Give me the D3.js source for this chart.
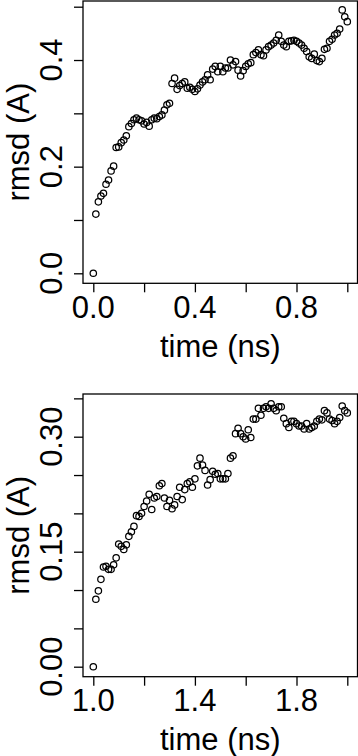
<!DOCTYPE html>
<html>
<head>
<meta charset="utf-8">
<script src="https://cdn.jsdelivr.net/npm/d3@7"></script>
<style>
  html, body { margin: 0; padding: 0; background: #fff; }
  svg { display: block; }
  text { font-family: "Liberation Sans", Arial, sans-serif; fill: #000; }
</style>
</head>
<body>
<svg id="chart" width="358" height="756"></svg>
<script>
// ---- Data ----
const timeTop = [0.00,0.01,0.02,0.03,0.04,0.05,0.06,0.07,0.08,0.09,0.10,0.11,0.12,0.13,0.14,0.15,0.16,0.17,0.18,0.19,0.20,0.21,0.22,0.23,0.24,0.25,0.26,0.27,0.28,0.29,0.30,0.31,0.32,0.33,0.34,0.35,0.36,0.37,0.38,0.39,0.40,0.41,0.42,0.43,0.44,0.45,0.46,0.47,0.48,0.49,0.50,0.51,0.52,0.53,0.54,0.55,0.56,0.57,0.58,0.59,0.60,0.61,0.62,0.63,0.64,0.65,0.66,0.67,0.68,0.69,0.70,0.71,0.72,0.73,0.74,0.75,0.76,0.77,0.78,0.79,0.80,0.81,0.82,0.83,0.84,0.85,0.86,0.87,0.88,0.89,0.90,0.91,0.92,0.93,0.94,0.95,0.96,0.97,0.98,0.99,1.00];
const rmsdTop = [0,0.111,0.134,0.145,0.150,0.167,0.175,0.192,0.201,0.236,0.237,0.245,0.250,0.258,0.275,0.281,0.288,0.291,0.288,0.286,0.280,0.283,0.276,0.288,0.291,0.290,0.294,0.297,0.306,0.316,0.319,0.356,0.366,0.345,0.352,0.356,0.359,0.347,0.349,0.345,0.341,0.346,0.353,0.359,0.363,0.372,0.363,0.383,0.388,0.378,0.388,0.378,0.385,0.385,0.400,0.391,0.397,0.381,0.370,0.380,0.388,0.393,0.395,0.410,0.414,0.419,0.410,0.408,0.419,0.425,0.428,0.432,0.437,0.447,0.435,0.428,0.425,0.435,0.436,0.437,0.435,0.432,0.428,0.422,0.416,0.406,0.403,0.411,0.399,0.397,0.403,0.420,0.422,0.435,0.439,0.447,0.450,0.458,0.494,0.481,0.472];

const timeBottom = [1.00,1.01,1.02,1.03,1.04,1.05,1.06,1.07,1.08,1.09,1.10,1.11,1.12,1.13,1.14,1.15,1.16,1.17,1.18,1.19,1.20,1.21,1.22,1.23,1.24,1.25,1.26,1.27,1.28,1.29,1.30,1.31,1.32,1.33,1.34,1.35,1.36,1.37,1.38,1.39,1.40,1.41,1.42,1.43,1.44,1.45,1.46,1.47,1.48,1.49,1.50,1.51,1.52,1.53,1.54,1.55,1.56,1.57,1.58,1.59,1.60,1.61,1.62,1.63,1.64,1.65,1.66,1.67,1.68,1.69,1.70,1.71,1.72,1.73,1.74,1.75,1.76,1.77,1.78,1.79,1.80,1.81,1.82,1.83,1.84,1.85,1.86,1.87,1.88,1.89,1.90,1.91,1.92,1.93,1.94,1.95,1.96,1.97,1.98,1.99,2.00];
const rmsdBottom = [0,0.088,0.099,0.114,0.130,0.131,0.127,0.127,0.133,0.142,0.160,0.157,0.153,0.159,0.170,0.176,0.183,0.197,0.196,0.200,0.209,0.216,0.225,0.205,0.220,0.222,0.236,0.239,0.220,0.209,0.217,0.206,0.211,0.222,0.234,0.218,0.231,0.239,0.241,0.234,0.245,0.262,0.272,0.263,0.256,0.237,0.244,0.255,0.251,0.252,0.245,0.245,0.245,0.252,0.272,0.275,0.304,0.311,0.304,0.300,0.297,0.309,0.299,0.323,0.323,0.337,0.328,0.337,0.339,0.337,0.343,0.337,0.334,0.339,0.339,0.324,0.317,0.312,0.320,0.320,0.317,0.314,0.314,0.310,0.317,0.310,0.312,0.314,0.320,0.323,0.322,0.334,0.331,0.323,0.321,0.317,0.320,0.325,0.340,0.334,0.331];

const xTicksTop = [0.0,0.2,0.4,0.6,0.8,1.0];
const xLabelsTop = ["0.0","","0.4","","0.8",""];
const yTicksTop = [0.0,0.1,0.2,0.3,0.4,0.5];
const yLabelsTop = ["0.0","","0.2","","0.4",""];

const xTicksBottom = [1.0,1.2,1.4,1.6,1.8,2.0];
const xLabelsBottom = ["1.0","","1.4","","1.8",""];
const yTicksBottom = [0.00,0.05,0.10,0.15,0.20,0.25,0.30,0.35];
const yLabelsBottom = ["0.00","","","0.15","","","0.30",""];

const xTitle = "time (ns)";
const yTitle = "rmsd (A)";

// ---- Drawing ----
const svg = d3.select("#chart");
const FS = 31;

function panel(cfg) {
  const g = svg.append("g");
  const x = d3.scaleLinear().domain(cfg.xDom).range(cfg.xRange);
  const y = d3.scaleLinear().domain(cfg.yDom).range(cfg.yRange);
  const L = 83, R = 357.5, T = cfg.top, B = cfg.bottom;

  // box
  g.append("rect").attr("x", L).attr("y", T).attr("width", R - L).attr("height", B - T)
    .attr("fill", "none").attr("stroke", "#000").attr("stroke-width", 1.3);

  // x axis
  const xAxis = d3.axisBottom(x).tickValues(cfg.xTicks).tickSize(9).tickFormat(() => "");
  const gx = g.append("g").attr("transform", `translate(0,${B})`).call(xAxis);
  gx.select(".domain").remove();
  gx.selectAll(".tick line").attr("stroke", "#000").attr("stroke-width", 1.3);
  g.selectAll(null).data(cfg.xTicks).enter().append("text")
    .attr("x", d => x(d)).attr("y", B + 34.5)
    .attr("text-anchor", "middle").attr("font-size", FS)
    .text((d, i) => cfg.xLabels[i]);

  // y axis
  const yAxis = d3.axisLeft(y).tickValues(cfg.yTicks).tickSize(9).tickFormat(() => "");
  const gy = g.append("g").attr("transform", `translate(${L},0)`).call(yAxis);
  gy.select(".domain").remove();
  gy.selectAll(".tick line").attr("stroke", "#000").attr("stroke-width", 1.3);
  g.selectAll(null).data(cfg.yTicks).enter().append("text")
    .attr("transform", d => `translate(61.5,${y(d)}) rotate(-90)`)
    .attr("text-anchor", "middle").attr("font-size", FS)
    .text((d, i) => cfg.yLabels[i]);

  // titles
  g.append("text").attr("x", (L + R) / 2).attr("y", B + 73.5)
    .attr("text-anchor", "middle").attr("font-size", FS).text(xTitle);
  g.append("text").attr("transform", `translate(29,${(T + B) / 2}) rotate(-90)`)
    .attr("text-anchor", "middle").attr("font-size", FS).text(yTitle);

  // points
  g.selectAll("circle").data(cfg.t.map((t, i) => [t, cfg.v[i]])).enter().append("circle")
    .attr("cx", d => x(d[0])).attr("cy", d => y(d[1])).attr("r", 3.2)
    .attr("fill", "none").attr("stroke", "#000").attr("stroke-width", 1.25);
}

panel({
  t: timeTop, v: rmsdTop,
  xDom: [0, 1], xRange: [93.3, 347.3],
  yDom: [0, 0.5], yRange: [273.3, 6.7],
  top: 1, bottom: 283.3,
  xTicks: xTicksTop, xLabels: xLabelsTop,
  yTicks: yTicksTop, yLabels: yLabelsTop
});

panel({
  t: timeBottom, v: rmsdBottom,
  xDom: [1, 2], xRange: [93.3, 347.3],
  yDom: [0, 0.30], yRange: [666.7, 436.7],
  top: 394, bottom: 676.7,
  xTicks: xTicksBottom, xLabels: xLabelsBottom,
  yTicks: yTicksBottom, yLabels: yLabelsBottom
});
</script>
</body>
</html>
